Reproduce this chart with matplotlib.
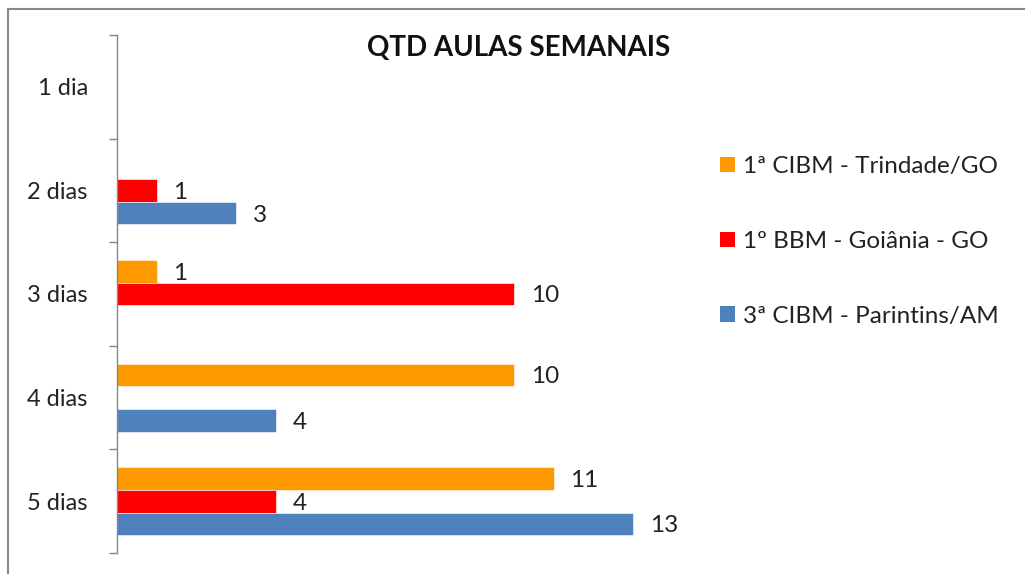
import matplotlib
matplotlib.use('Agg')
import matplotlib.pyplot as plt
from matplotlib.patches import Rectangle, Patch
import numpy as np

categories = ['1 dia', '2 dias', '3 dias', '4 dias', '5 dias']
series_names = ['1ª CIBM - Trindade/GO', '1º BBM - Goiânia - GO', '3ª CIBM - Parintins/AM']
trindade = [np.nan, np.nan, 1, 10, 11]
goiania = [np.nan, 1, 10, np.nan, 4]
parintins = [np.nan, 3, np.nan, 4, 13]
colors = ['#FF9900', '#FF0000', '#4F81BD']

plt.rcParams['font.family'] = ['Lato', 'DejaVu Sans']
FS = 17

fig = plt.figure(figsize=(10.25, 5.74), dpi=100)
ax = fig.add_axes([117 / 1025, 21 / 574, 583 / 1025, 518 / 574])

y = np.arange(len(categories))
h = 0.219
offsets = [-h, 0, h]
for vals, off, col in zip([trindade, goiania, parintins], offsets, colors):
    ax.barh(y + off, vals, height=h, color=col, edgecolor='white', linewidth=0.4)
    for yy, v in zip(y + off, vals):
        if not np.isnan(v):
            ax.annotate(f'{v:.0f}', (v, yy), xytext=(12, 0), textcoords='offset points',
                        ha='left', va='center_baseline', fontsize=FS + 0.5, color='#222222')

ax.set_xlim(0, 583 / 39.7)
ax.set_ylim(len(categories) - 0.5, -0.5)

# category boundaries as ticks, labels at centres
ax.set_yticks(np.arange(len(categories) + 1) - 0.5)
ax.set_yticklabels([])
ax.set_yticks(y, minor=True)
ax.set_yticklabels(categories, minor=True, fontsize=FS, color='#222222')
ax.tick_params(axis='y', which='major', length=6, color='#868686', width=1)
ax.tick_params(axis='y', which='minor', length=0, pad=21)
ax.set_xticks([])

for s in ['top', 'right', 'bottom']:
    ax.spines[s].set_visible(False)
ax.spines['left'].set_color('#868686')
ax.spines['left'].set_linewidth(1)

fig.text(519 / 1025, 1 - 48 / 574, 'QTD AULAS SEMANAIS', ha='center', va='center',
         fontsize=20, fontweight='bold', color='#111111')

handles = [Patch(facecolor=c, edgecolor='none') for c in colors]
fig.legend(handles, series_names, loc='upper left', bbox_to_anchor=(720 / 1025, 1 - 156 / 574),
           frameon=False, fontsize=17.5, handlelength=0.62, handleheight=0.62,
           handletextpad=0.33, labelspacing=2.22, borderpad=0, borderaxespad=0,
           labelcolor='#222222')

# chart area border
fig.patches.append(Rectangle((8 / 1025, -0.1), 1.2, 1 - 9 / 574 + 0.1, transform=fig.transFigure,
                             fill=False, edgecolor='#878787', linewidth=1.5, figure=fig))

fig.savefig('out.png', dpi=100)
plt.close(fig)
